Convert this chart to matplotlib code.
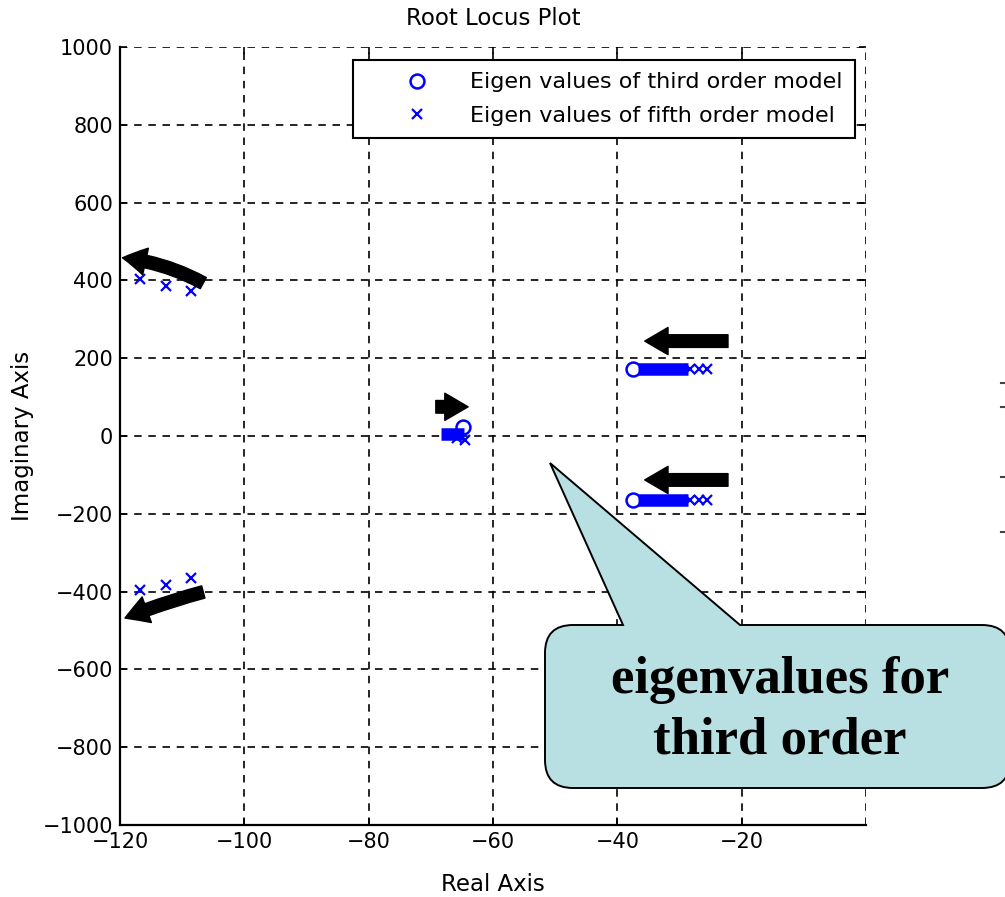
import matplotlib.pyplot as plt
from matplotlib.path import Path
from matplotlib.patches import PathPatch
from matplotlib.transforms import IdentityTransform
from matplotlib.lines import Line2D

# eigenvalues (real, imaginary)
third_re = [-37.5, -37.5, -64.8]
third_im = [172, -164, 22]

fifth_re = [-116.8, -112.6, -108.6, -116.8, -112.6, -108.6,
            -28.3, -26.9, -25.5, -28.3, -26.9, -25.5, -64.5, -65.8]
fifth_im = [404, 386, 373, -396, -383, -365,
            172, 172, 172, -164, -164, -164, -10, -6]

# dense stretches of the locus
trace_re = [[-36.6, -28.6], [-36.6, -28.6], [-68.4, -64.6]]
trace_im = [[172, 172], [-164, -164], [4, 4]]

# direction arrows: (tail, head, curvature)
arrows = [
    ((-22.2, 244), (-35.6, 244), 0.0),
    ((-22.2, -113), (-35.6, -113), 0.0),
    ((-69.2, 75), (-64.0, 75), 0.0),
    ((-106.6, 393), (-119.6, 458), 0.1),
    ((-106.6, -401), (-119.2, -468), 0.03),
]

xticks = [-120, -100, -80, -60, -40, -20]
yticks = [-1000, -800, -600, -400, -200, 0, 200, 400, 600, 800, 1000]

fig = plt.figure(figsize=(10.05, 8.97), dpi=100)
ax = fig.add_axes([0.1194, 0.0803, 0.7423, 0.8673])

ax.set_xlim(-120, 0)
ax.set_ylim(-1000, 1000)
ax.set_xticks(xticks)
ax.set_yticks(yticks)
ax.set_xticklabels([str(t).replace('-', '\u2212') for t in xticks])
ax.set_yticklabels([str(t).replace('-', '\u2212') for t in yticks])

# dashed grid, including the top and right edges
for t in xticks[1:] + [0]:
    ax.axvline(t, color='black', lw=1.2, ls=(0, (4.5, 4)), zorder=1)
for t in yticks[1:]:
    ax.axhline(t, color='black', lw=1.2, ls=(0, (4.5, 4)), zorder=1)

ax.spines['top'].set_visible(False)
ax.spines['right'].set_visible(False)
ax.spines['left'].set_linewidth(1.6)
ax.spines['bottom'].set_linewidth(1.6)
ax.tick_params(direction='in', length=5, width=1.2, top=True, right=True,
               labelsize=15, pad=5)

for xs, ys in zip(trace_re, trace_im):
    ax.plot(xs, ys, color='blue', lw=9, solid_capstyle='butt', zorder=3)

ax.plot(third_re, third_im, 'o', color='blue', mfc='none', ms=10, mew=1.8,
        ls='none', label='Eigen values of third order model', zorder=4)
ax.plot(fifth_re, fifth_im, 'x', color='blue', ms=7, mew=1.6,
        ls='none', label='Eigen values of fifth order model', zorder=4)

for tail, head, rad in arrows:
    ax.annotate('', xy=head, xytext=tail,
                arrowprops=dict(arrowstyle='simple,head_length=1.2,head_width=1.4,tail_width=0.65',
                                color='black', mutation_scale=14,
                                connectionstyle='arc3,rad=%s' % rad,
                                shrinkA=0, shrinkB=0),
                zorder=5, annotation_clip=False)

ax.set_title('Root Locus Plot', fontsize=16.5, pad=16)
ax.set_xlabel('Real Axis', fontsize=16.5, labelpad=15)
ax.set_ylabel('Imaginary Axis', fontsize=16.5, labelpad=6)

leg = ax.legend(loc='upper right', bbox_to_anchor=(0.985, 0.983), fontsize=16,
                fancybox=False, framealpha=1, edgecolor='black',
                handlelength=4.6, handletextpad=0.1, borderpad=0.55,
                labelspacing=0.6, borderaxespad=0)
leg.get_frame().set_linewidth(1.5)

# speech-bubble callout, in pixel coordinates
H = 897
L, R, T, B, r = 545, 1010, H - 625, H - 788, 28
tip = (550, H - 463)
verts = [(L, B + r), (L, T - r), (L, T), (L + r, T), (623, T), tip, (740, T),
         (R - r, T), (R, T), (R, T - r), (R, B + r), (R, B), (R - r, B),
         (L + r, B), (L, B), (L, B + r), (L, B + r)]
codes = [Path.MOVETO, Path.LINETO, Path.CURVE3, Path.CURVE3, Path.LINETO,
         Path.LINETO, Path.LINETO, Path.LINETO, Path.CURVE3, Path.CURVE3,
         Path.LINETO, Path.CURVE3, Path.CURVE3, Path.LINETO, Path.CURVE3,
         Path.CURVE3, Path.CLOSEPOLY]
bubble = PathPatch(Path(verts, codes), facecolor='#b8dfe2', edgecolor='black',
                   lw=1.4, transform=IdentityTransform(), zorder=10)
fig.patches.append(bubble)
fig.text(780 / 1005, 1 - 710 / H, 'eigenvalues for\nthird order',
         family='Liberation Serif', weight='bold', fontsize=38,
         ha='center', va='center', linespacing=1.35, zorder=11)

# tick stubs of the neighbouring plot at the right edge
for yp in [383, 407, 477, 532]:
    fig.lines.append(Line2D([1001, 1005], [H - yp, H - yp], color='#444444',
                            lw=1.5, transform=IdentityTransform()))

fig.savefig('out.png', dpi=100)
